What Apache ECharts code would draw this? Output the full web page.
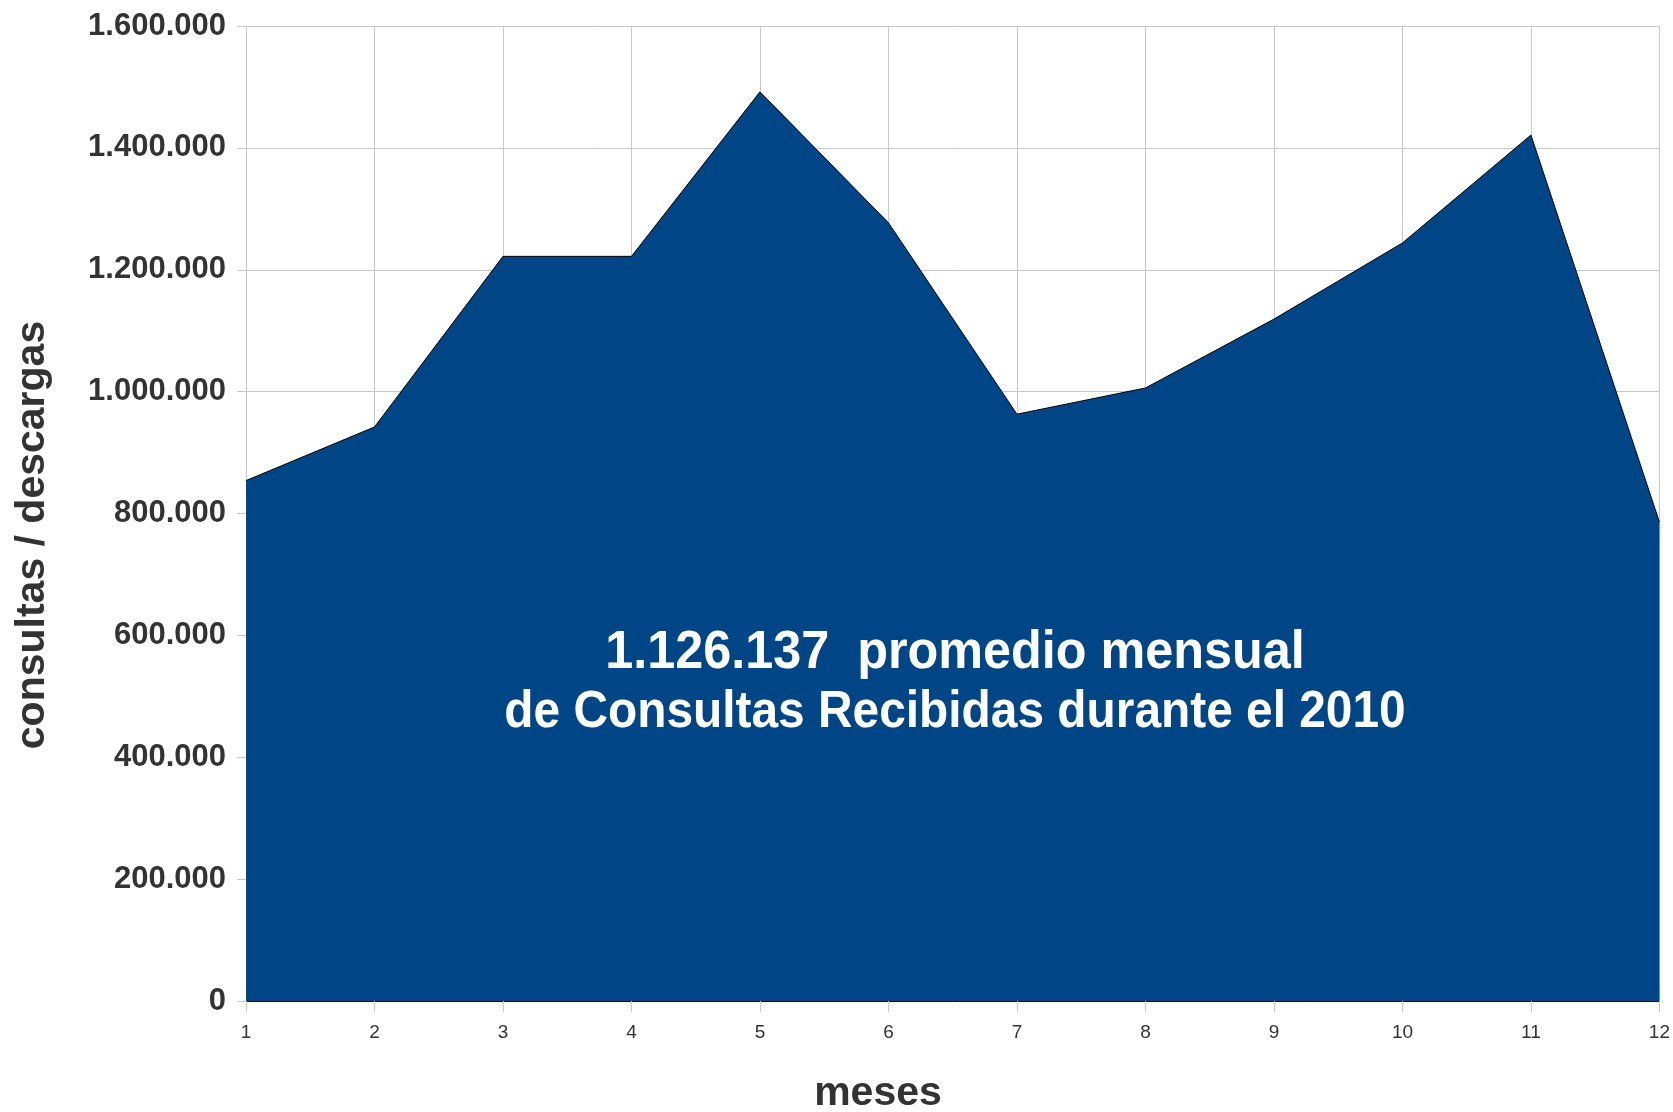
<!DOCTYPE html>
<html>
<head>
<meta charset="utf-8">
<script src="https://cdn.jsdelivr.net/npm/echarts@6/dist/echarts.min.js"></script>
<style>
  html, body { margin: 0; padding: 0; background: #fff; }
  #chart { width: 1673px; height: 1112px; }
</style>
</head>
<body>
<div id="chart"></div>
<script>
// meses del 2010
var months = ['1', '2', '3', '4', '5', '6', '7', '8', '9', '10', '11', '12']
// consultas / descargas por mes
var consultas = [854000, 942000, 1222000, 1222000, 1492000, 1277000, 963000, 1006000, 1119000, 1244000, 1421000, 786000]
var yTicks = {min: 0, max: 1600000, interval: 200000}

var FONT = '"Liberation Sans", Arial, Helvetica, sans-serif'

function puntos(v) {
  return String(v).replace(/\B(?=(\d{3})+(?!\d))/g, '.')
}

var chart = echarts.init(document.getElementById('chart'))

var option = {
  animation: false,
  grid: {left: 246, right: 12, top: 26, bottom: 111, containLabel: false},
  xAxis: {
    type: 'category',
    data: months,
    boundaryGap: false,
    axisLine: {show: true, lineStyle: {color: '#000', width: 1}},
    axisTick: {show: true, length: 11, lineStyle: {color: '#c8c8c8'}},
    axisLabel: {color: '#333', fontSize: 19, fontFamily: FONT, margin: 22},
    splitLine: {show: true, lineStyle: {color: '#c8c8c8', width: 1}}
  },
  yAxis: {
    type: 'value',
    min: yTicks.min,
    max: yTicks.max,
    interval: yTicks.interval,
    axisLine: {show: true, lineStyle: {color: '#c8c8c8'}},
    axisTick: {show: true, length: 9, lineStyle: {color: '#c8c8c8'}},
    axisLabel: {
      color: '#333', fontSize: 31, fontWeight: 'bold', fontFamily: FONT, margin: 20,
      formatter: puntos
    },
    splitLine: {show: true, lineStyle: {color: '#c8c8c8', width: 1}}
  },
  series: [{
    name: 'consultas',
    type: 'line',
    data: consultas,
    symbol: 'none',
    lineStyle: {color: '#000', width: 1},
    areaStyle: {color: '#004586', opacity: 1}
  }],
  graphic: [
    {
      type: 'text',
      x: 33, y: 535,
      rotation: Math.PI / 2,
      style: {
        text: 'consultas / descargas',
        fill: '#333',
        font: 'bold 41px ' + FONT,
        textAlign: 'center',
        textVerticalAlign: 'middle'
      }
    },
    {
      type: 'text',
      x: 878, y: 1094,
      style: {
        text: 'meses',
        fill: '#333',
        font: 'bold 41px ' + FONT,
        textAlign: 'center',
        textVerticalAlign: 'middle'
      }
    },
    {
      type: 'text',
      x: 955, y: 653,
      scaleX: 0.95,
      z: 100,
      style: {
        text: '1.126.137  promedio mensual',
        fill: '#fff',
        font: 'bold 53px ' + FONT,
        textAlign: 'center',
        textVerticalAlign: 'middle'
      }
    },
    {
      type: 'text',
      x: 955, y: 713,
      scaleX: 0.92,
      z: 100,
      style: {
        text: 'de Consultas Recibidas durante el 2010',
        fill: '#fff',
        font: 'bold 52px ' + FONT,
        textAlign: 'center',
        textVerticalAlign: 'middle'
      }
    }
  ]
}

chart.setOption(option)
</script>
</body>
</html>
